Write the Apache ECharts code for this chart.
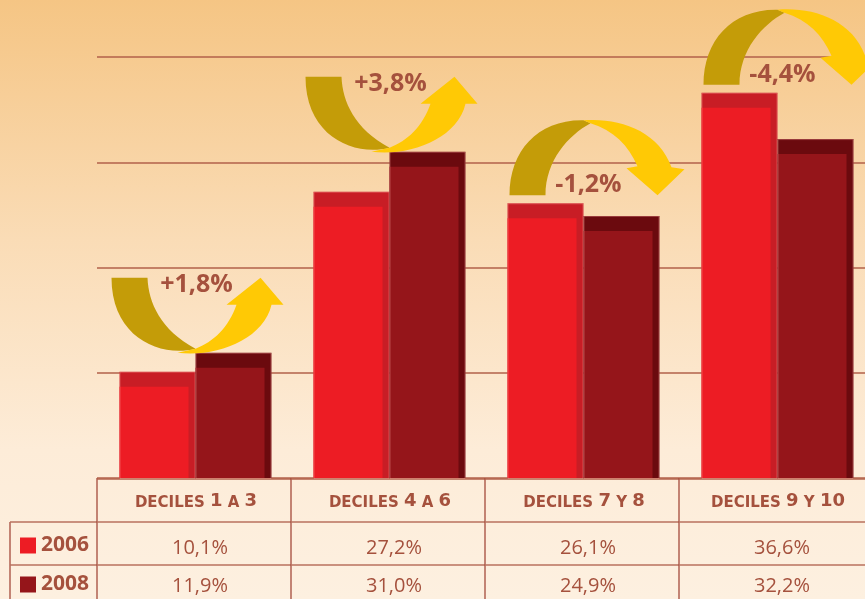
<!DOCTYPE html>
<html><head><meta charset="utf-8">
<script src="https://cdn.jsdelivr.net/npm/echarts@6/dist/echarts.min.js"></script>
<style>html,body{margin:0;padding:0;background:#fdf0e0;} #c{width:865px;height:599px;}</style>
</head><body><div id="c"></div>
<script>
// ---- data ----
const categories = ['DECILES 1 A 3', 'DECILES 4 A 6', 'DECILES 7 Y 8', 'DECILES 9 Y 10'];
const seriesNames = ['2006', '2008'];
const values2006 = [10.1, 27.2, 26.1, 36.6];
const values2008 = [11.9, 31.0, 24.9, 32.2];
const yTicks = [0, 10, 20, 30, 40];

// ---- helpers ----
const TXT = '#a5513d';
const FONT = '"Open Sans", "Noto Sans", sans-serif';
const fmt = v => v.toFixed(1).replace('.', ',') + '%';
const changes = values2006.map((v, i) => Math.round((values2008[i] - v) * 10) / 10);
const fmtChange = d => (d > 0 ? '+' : '-') + Math.abs(d).toFixed(1).replace('.', ',') + '%';

const chart = echarts.init(document.getElementById('c'), null, {renderer: 'canvas'});

function barRender(side, front, dark) {
  return function (params, api) {
    const i = api.value(0), v = api.value(1);
    const base = api.coord([i, 0]);
    const top = api.coord([i, v]);
    const bw = api.size([1, 0])[0];
    const w = bw * 76 / 194;
    const cx = base[0] + 1.5;
    const x0 = side === 0 ? cx - w : cx;
    const h = base[1] - top[1];
    const topH = 15, sideW = 7;
    return {type: 'group', children: [
      {type: 'rect', shape: {x: x0, y: top[1], width: w, height: h}, style: {fill: dark}},
      {type: 'rect', shape: {x: x0, y: top[1] + topH, width: w - sideW, height: h - topH}, style: {fill: front}},
      {type: 'rect', shape: {x: x0 + 0.5, y: top[1] + 0.5, width: w - 1, height: h}, style: {fill: null, stroke: 'rgba(255,170,160,0.35)', lineWidth: 1}}
    ]};
  };
}

const UP_DARK = 'M -84 0 L -48 0 C -47 25 -35 52 0 71 C -35 80 -84 60 -84 0 Z';
const UP_GOLD = 'M -18 75 C 20 80 68 62 76 27 L 88 27 L 65 0 L 31 27 L 41 27 C 33 50 18 64 0 71 Z';
const DN_DARK = 'M -74 0 C -74 -45 -45 -76 0 -75 L 7 -72 C -15 -60 -38 -35 -38 0 Z';
const DN_GOLD = 'M 0 -75 C 35 -78 75 -65 88 -28 L 101 -26 L 74 0 L 43 -27 L 54 -29 C 45 -50 30 -65 7 -72 Z';

function arrowRender(params, api) {
  const i = api.value(0);
  const a = values2006[i], b = values2008[i];
  const d = changes[i];
  const hi = api.coord([i, Math.max(a, b)]);
  const cx = hi[0] + 1.5;
  let oy, dark, gold, lx, ly;
  if (d > 0) {
    oy = hi[1] - 75; dark = UP_DARK; gold = UP_GOLD; lx = cx + 1; ly = oy + 7;
  } else {
    oy = hi[1] - 8; dark = DN_DARK; gold = DN_GOLD; lx = cx + 5; ly = oy - 10;
  }
  return {type: 'group', children: [
    {type: 'path', x: cx, y: oy, shape: {pathData: dark}, style: {fill: '#c49c08'}},
    {type: 'path', x: cx, y: oy, shape: {pathData: gold}, style: {fill: '#ffc905'}},
    {type: 'text', style: {x: lx, y: ly, text: fmtChange(d), fill: TXT, font: 'bold 25px ' + FONT, align: 'center', verticalAlign: 'middle'}}
  ]};
}

function headerRich(s) {
  return s.split(' ').map(t => /\d/.test(t) ? '{n|' + t + '}' : '{c|' + t + '}').join('{c| }');
}

function tableRender(params, api) {
  const i = api.value(0);
  const base = api.coord([i, 0]);
  const bw = api.size([1, 0])[0];
  const cx = base[0];
  const x0 = cx - bw / 2, x1 = cx + bw / 2;
  const y0 = base[1];
  const vline = {stroke: '#a54a3b', lineWidth: 1.3};
  const hline = {stroke: '#b8705e', lineWidth: 1.5};
  return {type: 'group', children: [
    {type: 'line', shape: {x1: x0, y1: y0, x2: x0, y2: 610}, style: vline},
    {type: 'line', shape: {x1: x0, y1: y0 + 1, x2: x1, y2: y0 + 1}, style: {stroke: '#b2604a', lineWidth: 1.3}},
    {type: 'line', shape: {x1: x0, y1: y0 + 44, x2: x1, y2: y0 + 44}, style: hline},
    {type: 'line', shape: {x1: x0, y1: y0 + 87, x2: x1, y2: y0 + 87}, style: hline},
    {type: 'text', style: {x: cx + 2, y: y0 + 23, text: headerRich(categories[i]), align: 'center', verticalAlign: 'middle',
      rich: {
        c: {fontFamily: '"DejaVu Sans", sans-serif', fontWeight: 'bold', fontSize: 15, fill: TXT, verticalAlign: 'bottom', lineHeight: 19},
        n: {fontFamily: '"DejaVu Sans", sans-serif', fontWeight: 'bold', fontSize: 18, fill: TXT, verticalAlign: 'bottom', lineHeight: 19}
      }}},
    {type: 'text', style: {x: cx + 6, y: y0 + 70, text: fmt(values2006[i]), fill: TXT, font: '20px ' + FONT, align: 'center', verticalAlign: 'middle'}},
    {type: 'text', style: {x: cx + 6, y: y0 + 108, text: fmt(values2008[i]), fill: TXT, font: '20px ' + FONT, align: 'center', verticalAlign: 'middle'}}
  ]};
}

const option = {
  animation: false,
  backgroundColor: {type: 'linear', x: 0, y: 0, x2: 0, y2: 1, colorStops: [
    {offset: 0, color: '#f5c584'}, {offset: 0.4, color: '#fadcb6'}, {offset: 0.75, color: '#fdecd8'}, {offset: 1, color: '#fdf0e0'}]},
  grid: {left: 97, top: 57, width: 776, height: 421, outerBoundsMode: 'none', containLabel: false},
  legend: {
    data: seriesNames, orient: 'vertical', left: 20, top: 535, height: 120, itemWidth: 16, itemHeight: 16, itemGap: 18,
    icon: 'rect', selectedMode: false, padding: 0,
    textStyle: {color: TXT, fontSize: 21, fontWeight: 'bold', fontFamily: FONT, lineHeight: 16}
  },
  xAxis: {type: 'category', data: categories, axisLine: {show: false}, axisTick: {show: false}, axisLabel: {show: false}},
  yAxis: {type: 'value', min: yTicks[0], max: yTicks[yTicks.length - 1], interval: 10,
    axisLabel: {show: false}, axisLine: {show: false}, axisTick: {show: false},
    splitLine: {lineStyle: {color: '#b2604a', width: 1.6}}},
  graphic: [
    {type: 'line', shape: {x1: 10, y1: 522, x2: 10, y2: 610}, style: {stroke: '#a54a3b', lineWidth: 1.3}},
    {type: 'line', shape: {x1: 10, y1: 522, x2: 97, y2: 522}, style: {stroke: '#b8705e', lineWidth: 1.5}},
    {type: 'line', shape: {x1: 10, y1: 565, x2: 97, y2: 565}, style: {stroke: '#b8705e', lineWidth: 1.5}}
  ],
  series: [
    {name: seriesNames[0], type: 'custom', renderItem: barRender(0, '#ed1c24', '#c81d25'), itemStyle: {color: '#ed1c24'},
      data: values2006.map((v, i) => [i, v]), encode: {x: 0, y: 1}, z: 3},
    {name: seriesNames[1], type: 'custom', renderItem: barRender(1, '#95151a', '#6b0a0e'), itemStyle: {color: '#95151a'},
      data: values2008.map((v, i) => [i, v]), encode: {x: 0, y: 1}, z: 3},
    {name: 'cambio', type: 'custom', renderItem: arrowRender, data: categories.map((c, i) => [i, Math.max(values2006[i], values2008[i])]),
      encode: {x: 0, y: 1}, z: 4},
    {name: 'tabla', type: 'custom', renderItem: tableRender, data: categories.map((c, i) => [i, 0]), encode: {x: 0, y: 1}, z: 2}
  ]
};
chart.setOption(option);
</script>
</body></html>
